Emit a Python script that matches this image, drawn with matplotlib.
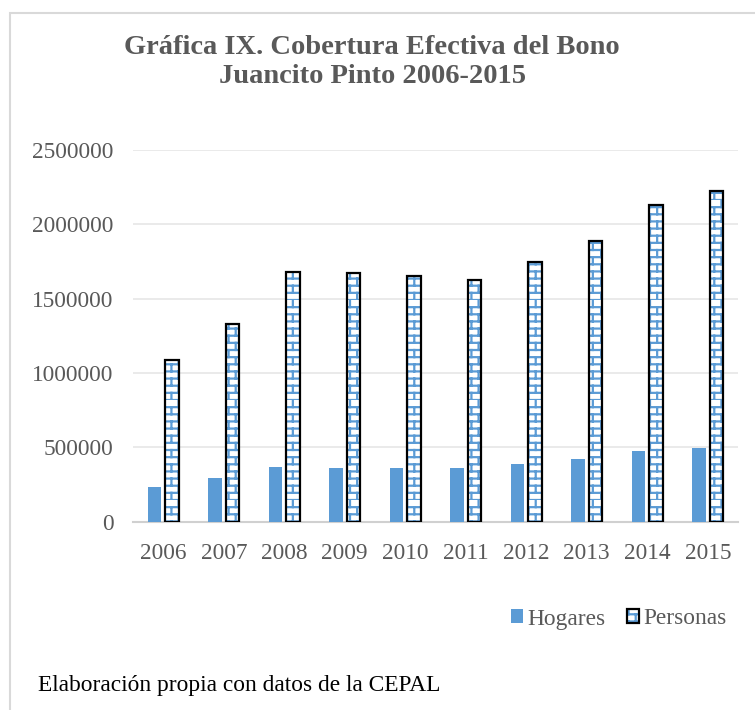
import warnings
import numpy as np
import matplotlib
matplotlib.use('Agg')
import matplotlib.pyplot as plt
from matplotlib import hatch as mhatch
from matplotlib.path import Path
from matplotlib.patches import Patch, Rectangle

warnings.filterwarnings('ignore')

years = ['2006', '2007', '2008', '2009', '2010', '2011', '2012', '2013', '2014', '2015']
hogares = [235000, 294000, 366000, 363000, 361000, 359000, 388000, 420000, 473000, 494000]
personas = [1086000, 1330000, 1679000, 1671000, 1651000, 1624000, 1749000, 1890000, 2132000, 2226000]
yticks = [0, 500000, 1000000, 1500000, 2000000, 2500000]

BLUE = '#5B9BD5'
GREY_TXT = '#595959'


class BrickHatch(mhatch.HatchPatternBase):
    """Trama de ladrillos horizontales, se activa con el caracter 'b'."""
    rows = 14
    cols = 7

    def __init__(self, hatch, density):
        n = hatch.count('b')
        self.num_rows = self.rows * n
        self.num_cols = self.cols * n
        self.num_vertices = 2 * self.num_rows + 2 * self.num_rows * self.num_cols

    def set_vertices_and_codes(self, vertices, codes):
        h = 1.0 / self.num_rows
        w = 1.0 / self.num_cols
        k = 0
        for i in range(self.num_rows):
            y = i * h
            vertices[k] = (0.0, y)
            vertices[k + 1] = (1.0, y)
            codes[k] = Path.MOVETO
            codes[k + 1] = Path.LINETO
            k += 2
            shift = 0.5 * (i % 2)
            for j in range(self.num_cols):
                x = (j + shift) * w
                vertices[k] = (x, y)
                vertices[k + 1] = (x, y + h)
                codes[k] = Path.MOVETO
                codes[k + 1] = Path.LINETO
                k += 2


mhatch._hatch_types.append(BrickHatch)

plt.rcParams['font.family'] = ['Liberation Serif', 'DejaVu Serif']
plt.rcParams['hatch.linewidth'] = 1.6

fig = plt.figure(figsize=(7.55, 7.1), dpi=100)
ax = fig.add_axes([133 / 755, 1 - 521.7 / 710, (738 - 133) / 755, (521.7 - 150) / 710])

x = np.arange(len(years))
w = 0.225
ax.bar(x - 0.145, hogares, w, color=BLUE, edgecolor='none', zorder=3)
ax.bar(x + 0.145, personas, w, facecolor='white', edgecolor=BLUE, hatch='b', linewidth=0, zorder=3)
ax.bar(x + 0.145, personas, w, fill=False, edgecolor='black', linewidth=1.6, zorder=4)

ax.set_xlim(-0.5, len(years) - 0.5)
ax.set_ylim(0, 2500000)
ax.set_yticks(yticks)
ax.set_yticklabels([str(v) for v in yticks])
ax.set_xticks(x)
ax.set_xticklabels(years)
ax.tick_params(length=0, labelsize=16.8, labelcolor=GREY_TXT)
ax.tick_params(axis='y', pad=14)
ax.tick_params(axis='x', pad=15)
ax.grid(axis='y', color='#e6e6e6', linewidth=1.2, zorder=0)
for side in ['top', 'right', 'left']:
    ax.spines[side].set_visible(False)
ax.spines['bottom'].set_color('#d0d0d0')
ax.spines['bottom'].set_linewidth(1.5)

fig.text(0.493, 1 - 62 / 710, 'Gráfica IX. Cobertura Efectiva del Bono\nJuancito Pinto 2006-2015',
         ha='center', va='center', fontsize=20.5, fontweight='bold', color=GREY_TXT,
         linespacing=1.18)

# leyenda
h_hog = Patch(facecolor=BLUE, edgecolor='none')
h_per = (Patch(facecolor='white', edgecolor=BLUE, hatch='b', linewidth=0),
         Patch(fill=False, edgecolor='black', linewidth=1.6))
leg = fig.legend([h_hog, h_per], ['Hogares', 'Personas'], loc='center',
                 bbox_to_anchor=(619 / 755, 1 - 619 / 710), ncol=2, frameon=False,
                 fontsize=16.8, handlelength=0.52, handleheight=0.52,
                 handletextpad=0.2, columnspacing=0.9)
for t in leg.get_texts():
    t.set_color(GREY_TXT)

fig.text(38 / 755, 1 - 686 / 710, 'Elaboración propia con datos de la CEPAL',
         ha='left', va='center', fontsize=16.8, color='black')

# marco del gráfico
fig.add_artist(Rectangle((10 / 755, -0.1), 1.2, 1 - 13 / 710 + 0.1, transform=fig.transFigure,
                         fill=False, edgecolor='#d9d9d9', linewidth=1.5))

fig.savefig('out.png', dpi=100)
